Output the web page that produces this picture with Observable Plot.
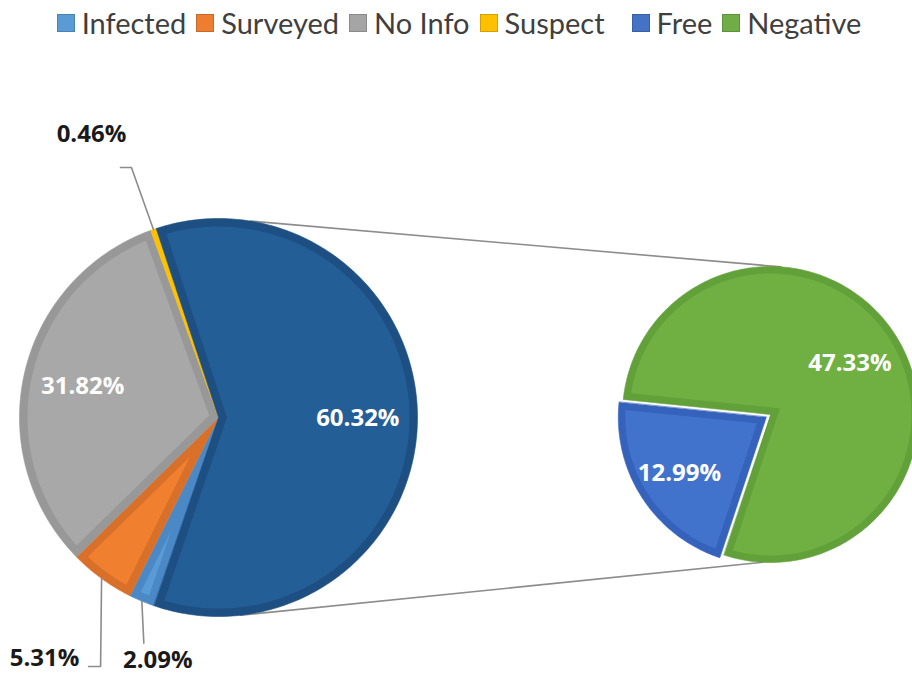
<!DOCTYPE html>
<html>
<head>
<meta charset="utf-8">
<script src="https://cdn.jsdelivr.net/npm/d3@7"></script>
<script src="https://cdn.jsdelivr.net/npm/@observablehq/plot@0.6"></script>
<style>
  html, body { margin: 0; padding: 0; background: #fff; }
  #legend { height: 45px; display: flex; justify-content: center; align-items: center; font-family: Lato, sans-serif; font-size: 29px; color: #3f3f3f; padding-left: 6px; box-sizing: border-box; }
  #legend .item { display: flex; align-items: center; margin: 0 5px; }
  #legend .sw { width: 18px; height: 18px; margin-right: 7px; box-sizing: border-box; }
  #legend .gap { margin-left: 22px; }
</style>
</head>
<body>
<div id="legend"></div>
<div id="chart"></div>
<script>
// ---------- data ----------
const mainCategories = ["Infected", "Surveyed", "No Info", "Suspect", "Other"];
const mainValues = [2.09, 5.31, 31.82, 0.46, 60.32];
const subCategories = ["Free", "Negative"];
const subValues = [12.99, 47.33];
const legendLabels = ["Infected", "Surveyed", "No Info", "Suspect", "Free", "Negative"];
const legendColors = ["#5b9bd5", "#ed7d31", "#a5a5a5", "#ffc000", "#4472c4", "#70ad47"];
const fillColors = {Infected: "#5b9bd5", Surveyed: "#f0802f", "No Info": "#a8a8a8", Suspect: "#ffc000", Other: "#245e96", Free: "#4173cc", Negative: "#70b043"};
const borderColors = {Infected: "#4a89c6", Surveyed: "#d9702a", "No Info": "#989898", Suspect: "#eab000", Other: "#1d4f82", Free: "#3562bb", Negative: "#62a03a"};

// ---------- layout (geometry constants, not data) ----------
const L = {
  main: {cx: 218, cy: 417, r: 199, start: 198.9, inset: 8, labelR: 0.7},
  sub: {cx: 770, cy: 414, r: 148, start: 198.3, inset: 7, labelR: {Free: 0.7, Negative: 0.64}, explode: {Free: 5}},
  connectors: [{main: 9.3, sub: 4}, {main: 173.6, sub: 183}],
  outer: {
    Suspect: {path: [[-22, -62], [-11, 0]], label: [-29, -33]},
    Surveyed: {path: [[-1, 88], [-12, 0]], label: [-44, -8]},
    Infected: {path: [[2, 42]], label: [14, 17]}
  }
};

// legend
const leg = document.getElementById("legend");
legendLabels.forEach((name, i) => {
  const it = document.createElement("div");
  it.className = "item" + (name === "Free" ? " gap" : "");
  const sw = document.createElement("div");
  sw.className = "sw";
  sw.style.background = legendColors[i];
  sw.style.border = "1px solid " + d3.color(legendColors[i]).darker(0.5);
  const tx = document.createElement("span");
  tx.textContent = name;
  it.appendChild(sw); it.appendChild(tx);
  leg.appendChild(it);
});

// ---------- geometry helpers ----------
const rad = Math.PI / 180;
const P = (cx, cy, r, a) => [cx + r * Math.sin(a * rad), cy - r * Math.cos(a * rad)];
function wedge(cx, cy, r, a0, a1) {
  const pts = [[cx, cy]];
  const n = Math.max(2, Math.ceil((a1 - a0) / 1));
  for (let i = 0; i <= n; i++) pts.push(P(cx, cy, r, a0 + (a1 - a0) * i / n));
  return pts;
}
function innerWedge(cx, cy, r, a0, a1, d) {
  const half = (a1 - a0) / 2 * rad;
  const t = d / Math.sin(half);
  const ri = r - d;
  if (!(t < ri - 4)) return null;
  const delta = Math.asin(d / ri) / rad;
  const apex = P(cx, cy, t, (a0 + a1) / 2);
  const b0 = a0 + delta, b1 = a1 - delta;
  const pts = [apex];
  const n = Math.max(2, Math.ceil((b1 - b0) / 1));
  for (let i = 0; i <= n; i++) pts.push(P(cx, cy, ri, b0 + (b1 - b0) * i / n));
  return pts;
}

const outerPts = [], innerPts = [], innerLabels = [], outerLabels = [], leaders = [], connectors = [];
function addPie(cats, vals, cfg, total) {
  let a = cfg.start;
  cats.forEach((c, i) => {
    const span = vals[i] / total * 360;
    const a0 = a, a1 = a + span;
    a = a1;
    const mid = (a0 + a1) / 2;
    const ex = cfg.explode && cfg.explode[c] ? cfg.explode[c] : 0;
    const [cx, cy] = P(cfg.cx, cfg.cy, ex, mid);
    const inner = innerWedge(cx, cy, cfg.r, a0, a1, cfg.inset);
    const key = inner ? c + " border" : c;
    wedge(cx, cy, cfg.r, a0, a1).forEach(([x, y]) => outerPts.push({key, x, y}));
    if (inner) inner.forEach(([x, y]) => innerPts.push({key: c, x, y}));
    const text = vals[i].toFixed(2) + "%";
    if (L.outer[c]) {
      const o = L.outer[c];
      let p = P(cfg.cx, cfg.cy, cfg.r, mid);
      leaders.push({id: c, x: p[0], y: p[1]});
      o.path.forEach(([dx, dy]) => { p = [p[0] + dx, p[1] + dy]; leaders.push({id: c, x: p[0], y: p[1]}); });
      outerLabels.push({x: p[0] + o.label[0], y: p[1] + o.label[1], text});
    } else {
      const lr = typeof cfg.labelR === "number" ? cfg.labelR : cfg.labelR[c];
      const [lx, ly] = P(cx, cy, cfg.r * lr, mid);
      innerLabels.push({x: lx, y: ly, text});
    }
  });
}
addPie(mainCategories, mainValues, L.main, d3.sum(mainValues));
addPie(subCategories, subValues, L.sub, d3.sum(subValues));

L.connectors.forEach((c, i) => {
  const a = P(L.main.cx, L.main.cy, L.main.r, c.main);
  const b = P(L.sub.cx, L.sub.cy, L.sub.r, c.sub);
  connectors.push({id: i, x: a[0], y: a[1]}, {id: i, x: b[0], y: b[1]});
});

const allCats = [...mainCategories, ...subCategories];
const colorDomain = [...allCats, ...allCats.map(c => c + " border")];
const colorRange = [...allCats.map(c => fillColors[c]), ...allCats.map(c => borderColors[c])];

const chart = Plot.plot({
  width: 912,
  height: 631,
  margin: 0,
  style: {overflow: "visible"},
  x: {domain: [0, 912], range: [0, 912], axis: null},
  y: {domain: [45, 676], range: [0, 631], axis: null},
  color: {domain: colorDomain, range: colorRange},
  marks: [
    Plot.line(connectors, {x: "x", y: "y", z: "id", stroke: "#8c8c8c", strokeWidth: 1.6}),
    Plot.line(outerPts, {x: "x", y: "y", z: "key", fill: "key", stroke: "key", strokeWidth: 0.6, curve: "linear-closed"}),
    Plot.line(innerPts, {x: "x", y: "y", z: "key", fill: "key", stroke: "none", curve: "linear-closed"}),
    Plot.line(leaders, {x: "x", y: "y", z: "id", stroke: "#8c8c8c", strokeWidth: 1.6}),
    Plot.text(innerLabels, {x: "x", y: "y", text: "text", fill: "white", fontSize: 24, fontWeight: "bold", fontFamily: "Open Sans"}),
    Plot.text(outerLabels, {x: "x", y: "y", text: "text", fill: "#1a1a1a", fontSize: 24, fontWeight: "bold", fontFamily: "Open Sans"})
  ]
});
document.getElementById("chart").appendChild(chart);
</script>
</body>
</html>
